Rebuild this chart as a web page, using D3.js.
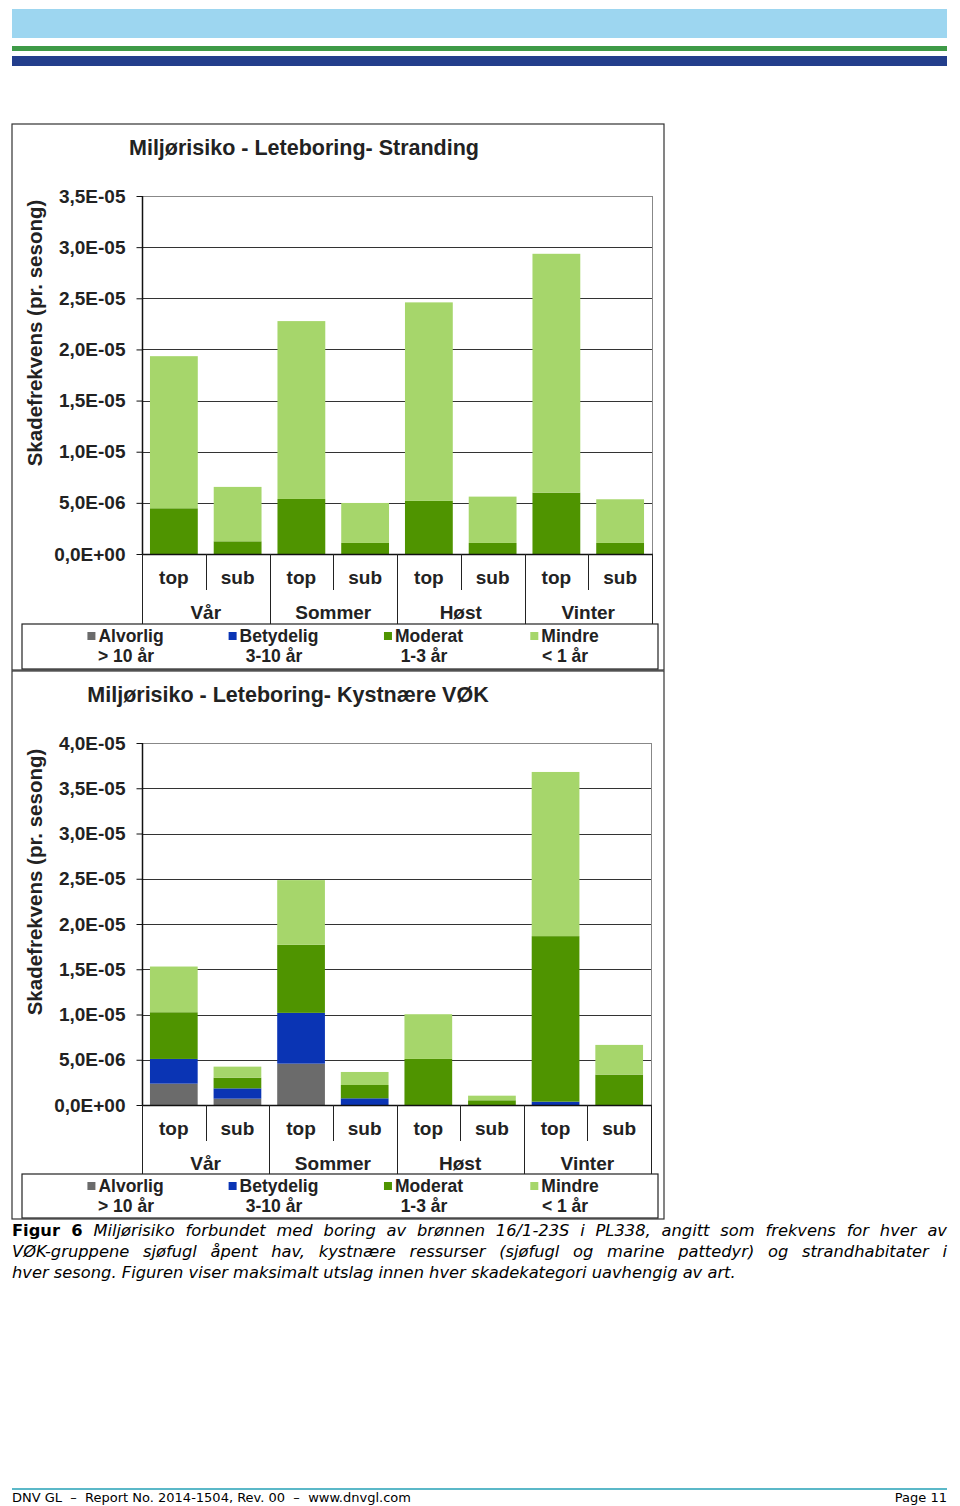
<!DOCTYPE html>
<html>
<head>
<meta charset="utf-8">
<script src="https://cdn.jsdelivr.net/npm/d3@7"></script>
<style>
  body { margin: 0; background: #fff; }
  #page { position: relative; width: 960px; height: 1506px; }
  svg { position: absolute; left: 0; top: 0; }
  .cap { position: absolute; left: 12px; width: 935px; font-family: "DejaVu Sans", Verdana, sans-serif;
         font-size: 16.3px; font-style: italic; text-align: justify; text-align-last: justify; white-space: nowrap; line-height: 21px; }
  .cap.last { text-align-last: left; }
  .cap b { font-style: normal; }
</style>
</head>
<body>
<div id="page">
<svg id="chart" width="960" height="1506"></svg>
<div class="cap" style="top:1220px"><b>Figur 6</b> Miljørisiko forbundet med boring av brønnen 16/1-23S i PL338, angitt som frekvens for hver av</div>
<div class="cap" style="top:1241px">VØK-gruppene sjøfugl åpent hav, kystnære ressurser (sjøfugl og marine pattedyr) og strandhabitater i</div>
<div class="cap last" style="top:1262px">hver sesong. Figuren viser maksimalt utslag innen hver skadekategori uavhengig av art.</div>
</div>
<script>
const seasons = ["Vår", "Sommer", "Høst", "Vinter"];
const positions = ["top", "sub"];
const seriesNames = ["Alvorlig", "Betydelig", "Moderat", "Mindre"];
const seriesSub = ["> 10 år", "3-10 år", "1-3 år", "< 1 år"];
const seriesColors = ["#6b6b6b", "#0a34b4", "#4f9400", "#a6d66b"];

// Stranding (top chart), order: Vår top, Vår sub, Sommer top, ...
const strandAlvorlig  = [0, 0, 0, 0, 0, 0, 0, 0];
const strandBetydelig = [0, 0, 0, 0, 0, 0, 0, 0];
const strandModerat   = [4.47e-6, 1.24e-6, 5.38e-6, 1.08e-6, 5.19e-6, 1.08e-6, 6.0e-6, 1.08e-6];
const strandMindre    = [14.87e-6, 5.32e-6, 17.39e-6, 3.91e-6, 19.41e-6, 4.53e-6, 23.35e-6, 4.27e-6];

// Kystnære VØK (bottom chart)
const kystAlvorlig  = [2.36e-6, 0.7e-6, 4.57e-6, 0, 0, 0, 0, 0];
const kystBetydelig = [2.73e-6, 1.14e-6, 5.61e-6, 0.74e-6, 0, 0, 0.37e-6, 0];
const kystModerat   = [5.16e-6, 1.18e-6, 7.52e-6, 1.47e-6, 5.09e-6, 0.52e-6, 18.29e-6, 3.36e-6];
const kystMindre    = [5.05e-6, 1.22e-6, 7.15e-6, 1.44e-6, 4.94e-6, 0.51e-6, 18.14e-6, 3.28e-6];

const svg = d3.select("#chart");
const chartFont = "'Liberation Sans', Arial, sans-serif";

// page header stripes
svg.append("rect").attr("x", 12).attr("y", 9).attr("width", 935).attr("height", 29).attr("fill", "#9dd6f0");
svg.append("rect").attr("x", 12).attr("y", 46).attr("width", 935).attr("height", 5).attr("fill", "#3e9a47");
svg.append("rect").attr("x", 12).attr("y", 56).attr("width", 935).attr("height", 10).attr("fill", "#233e8c");

// footer
svg.append("rect").attr("x", 12).attr("y", 1488).attr("width", 935).attr("height", 2).attr("fill", "#5bb8c8");
svg.append("text").attr("x", 12).attr("y", 1502)
    .style("font-family", "'DejaVu Sans', Verdana, sans-serif").style("font-size", "13px")
    .style("white-space", "pre")
    .text("DNV GL  –  Report No. 2014-1504, Rev. 00  –  www.dnvgl.com");
svg.append("text").attr("x", 947).attr("y", 1502).attr("text-anchor", "end")
    .style("font-family", "'DejaVu Sans', Verdana, sans-serif").style("font-size", "13px")
    .text("Page 11");

function sciFmt(v) {
    const [m, e] = v.toExponential(1).split("e");
    const ex = +e;
    return m.replace(".", ",") + "E" + (ex < 0 ? "-" : "+") + String(Math.abs(ex)).padStart(2, "0");
}

function drawChart(opt) {
    const {box, plot, title, titleX, yMax, series, legendY, yTitleY} = opt;
    const g = svg.append("g");

    g.append("rect").attr("x", box.x).attr("y", box.y).attr("width", box.w).attr("height", box.h)
        .attr("fill", "none").attr("stroke", "#333").attr("stroke-width", 1.2);

    g.append("text").attr("x", titleX).attr("y", box.y + 31).attr("text-anchor", "middle")
        .style("font-family", chartFont).style("font-weight", "bold").style("font-size", "21.5px")
        .attr("fill", "#222").text(title);

    const y = d3.scaleLinear().domain([0, yMax]).range([plot.bottom, plot.top]);
    const cats = [];
    seasons.forEach(s => positions.forEach(p => cats.push(s + "|" + p)));
    const x = d3.scaleBand().domain(cats).range([plot.left, plot.right]).paddingInner(0.25).paddingOuter(0.125);

    const ticks = d3.range(0, yMax + 1e-12, 5e-6);

    // grid
    g.append("g").selectAll("line").data(ticks.slice(1)).join("line")
        .attr("x1", plot.left).attr("x2", plot.right)
        .attr("y1", d => Math.round(y(d)) + 0.5).attr("y2", d => Math.round(y(d)) + 0.5)
        .attr("stroke", d => d === ticks[ticks.length - 1] ? "#888" : "#333").attr("stroke-width", 1);
    g.append("line").attr("x1", plot.right + 0.5).attr("x2", plot.right + 0.5)
        .attr("y1", plot.top).attr("y2", plot.bottom).attr("stroke", "#888");

    // stacked bars
    const rows = cats.map((c, i) => {
        const r = {cat: c};
        seriesNames.forEach((n, k) => r[n] = series[k][i]);
        return r;
    });
    const stack = d3.stack().keys(seriesNames)(rows);
    g.append("g").selectAll("g").data(stack).join("g")
        .attr("fill", (d, k) => seriesColors[k])
        .selectAll("rect").data(d => d).join("rect")
        .attr("x", d => x(d.data.cat))
        .attr("width", x.bandwidth())
        .attr("y", d => y(d[1]))
        .attr("height", d => Math.max(0, y(d[0]) - y(d[1])));

    // y axis
    const yAxis = d3.axisLeft(y).tickValues(ticks).tickFormat(sciFmt).tickSize(6).tickPadding(11);
    const ya = g.append("g").attr("transform", `translate(${plot.left + 0.5},0)`).call(yAxis);
    ya.select(".domain").remove();
    ya.append("line").attr("y1", plot.top).attr("y2", plot.bottom).attr("stroke", "#111").attr("stroke-width", 1.5);
    ya.selectAll(".tick line").attr("stroke", "#111");
    ya.selectAll(".tick text").style("font-family", chartFont).style("font-weight", "bold")
        .style("font-size", "19px").attr("fill", "#222");

    g.append("text")
        .attr("transform", `translate(${box.x + 30},${yTitleY}) rotate(-90)`)
        .attr("text-anchor", "middle")
        .style("font-family", chartFont).style("font-weight", "bold").style("font-size", "20.5px")
        .attr("fill", "#222").text("Skadefrekvens (pr. sesong)");

    // x axis
    g.append("line").attr("x1", plot.left).attr("x2", plot.right + 1)
        .attr("y1", plot.bottom + 0.5).attr("y2", plot.bottom + 0.5).attr("stroke", "#111").attr("stroke-width", 1.5);
    const step = x.step();
    d3.range(cats.length + 1).forEach(i => {
        const xx = Math.round(plot.left + i * step) + 0.5;
        const long = i % 2 === 0;
        g.append("line").attr("x1", xx).attr("x2", xx)
            .attr("y1", plot.bottom).attr("y2", long ? legendY : plot.bottom + 36)
            .attr("stroke", "#222");
    });
    cats.forEach(c => {
        g.append("text").attr("x", x(c) + x.bandwidth() / 2).attr("y", plot.bottom + 30)
            .attr("text-anchor", "middle")
            .style("font-family", chartFont).style("font-weight", "bold").style("font-size", "19px")
            .attr("fill", "#222").text(c.split("|")[1]);
    });
    seasons.forEach((s, i) => {
        g.append("text").attr("x", plot.left + (i * 2 + 1) * step).attr("y", plot.bottom + 65)
            .attr("text-anchor", "middle")
            .style("font-family", chartFont).style("font-weight", "bold").style("font-size", "19px")
            .attr("fill", "#222").text(s);
    });

    // legend
    g.append("rect").attr("x", box.x + 10).attr("y", legendY).attr("width", box.w - 16).attr("height", box.y + box.h - legendY - 1)
        .attr("fill", "#fff").attr("stroke", "#222").attr("stroke-width", 1.2);
    const legendCx = [126, 274, 424, 565];
    seriesNames.forEach((n, k) => {
        const cx = legendCx[k];
        const t = g.append("text").attr("x", cx + 5).attr("y", legendY + 18).attr("text-anchor", "middle")
            .style("font-family", chartFont).style("font-weight", "bold").style("font-size", "17.5px")
            .attr("fill", "#222").text(n);
        const w = t.node().getComputedTextLength();
        g.append("rect").attr("x", cx + 5 - w / 2 - 11).attr("y", legendY + 8).attr("width", 8).attr("height", 8)
            .attr("fill", seriesColors[k]);
        g.append("text").attr("x", cx).attr("y", legendY + 38).attr("text-anchor", "middle")
            .style("font-family", chartFont).style("font-weight", "bold").style("font-size", "17.5px")
            .attr("fill", "#222").text(seriesSub[k]);
    });
}

drawChart({
    box: {x: 12, y: 124, w: 652, h: 546},
    plot: {left: 142, right: 652, top: 196, bottom: 554},
    title: "Miljørisiko - Leteboring- Stranding",
    titleX: 304,
    yMax: 3.5e-5,
    series: [strandAlvorlig, strandBetydelig, strandModerat, strandMindre],
    legendY: 624,
    yTitleY: 333
});

drawChart({
    box: {x: 12, y: 671, w: 652, h: 548},
    plot: {left: 142, right: 651, top: 743, bottom: 1105},
    title: "Miljørisiko - Leteboring- Kystnære VØK",
    titleX: 288,
    yMax: 4.0e-5,
    series: [kystAlvorlig, kystBetydelig, kystModerat, kystMindre],
    legendY: 1174,
    yTitleY: 882
});
</script>
</body>
</html>
